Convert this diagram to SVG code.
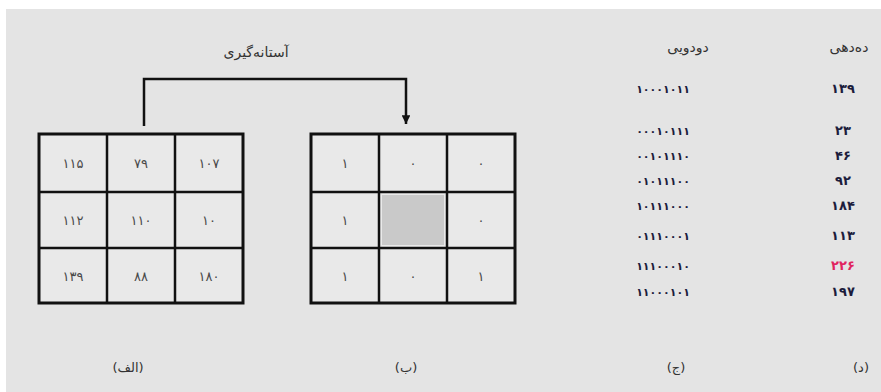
<svg xmlns="http://www.w3.org/2000/svg" width="881" height="392" viewBox="0 0 881 392">
<defs>
<style>
.t{font-family:"DejaVu Sans",sans-serif;text-anchor:middle;}
.cell{font-size:13px;fill:#4a4a4a;}
.hdr{font-size:14px;fill:#333;}
.bin{font-size:11px;font-weight:bold;fill:#1c1c3c;}
.dec{font-size:13px;font-weight:bold;fill:#1c1c3c;}
.lbl{font-size:13px;fill:#333;}
.grid{fill:none;stroke:#111;stroke-width:3;}
.gl{stroke:#111;stroke-width:2.5;}
.conn{fill:none;stroke:#111;stroke-width:2.5;}
</style>
<marker id="ah" viewBox="0 0 10 10" refX="10" refY="5" markerWidth="3.5" markerHeight="3.5" orient="auto" markerUnits="strokeWidth">
<path d="M0,0 L10,5 L0,10 Z" fill="#111"/>
</marker>
</defs>
<rect x="0" y="0" width="881" height="392" fill="#ffffff"/>
<rect x="6" y="9" width="875" height="383" fill="#e4e4e4"/>

<g id="title">
<text class="t hdr" x="256" y="57">آستانه‌گیری</text>
</g>

<g id="connectors">
<path class="conn" d="M144,126 L144,79 L406,79 L406,124" marker-end="url(#ah)"/>
</g>

<g id="grid-a">
<rect x="39" y="134" width="204" height="169" fill="#e9e9e9"/>
<rect class="grid" x="39" y="134" width="204" height="169"/>
<line class="gl" x1="107" y1="134" x2="107" y2="303"/>
<line class="gl" x1="175" y1="134" x2="175" y2="303"/>
<line class="gl" x1="39" y1="192" x2="243" y2="192"/>
<line class="gl" x1="39" y1="248" x2="243" y2="248"/>
<text class="t cell" x="73" y="168">۱۱۵</text>
<text class="t cell" x="141" y="168">۷۹</text>
<text class="t cell" x="209" y="168">۱۰۷</text>
<text class="t cell" x="73" y="225">۱۱۲</text>
<text class="t cell" x="141" y="225">۱۱۰</text>
<text class="t cell" x="209" y="225">۱۰</text>
<text class="t cell" x="73" y="281">۱۳۹</text>
<text class="t cell" x="141" y="281">۸۸</text>
<text class="t cell" x="209" y="281">۱۸۰</text>
</g>

<g id="grid-b">
<rect x="311" y="134" width="204" height="169" fill="#e9e9e9"/>
<rect x="382" y="195" width="62" height="50" fill="#c9c9c9"/>
<rect class="grid" x="311" y="134" width="204" height="169"/>
<line class="gl" x1="379" y1="134" x2="379" y2="303"/>
<line class="gl" x1="447" y1="134" x2="447" y2="303"/>
<line class="gl" x1="311" y1="192" x2="515" y2="192"/>
<line class="gl" x1="311" y1="248" x2="515" y2="248"/>
<text class="t cell" x="345" y="168">۱</text>
<text class="t cell" x="413" y="168">۰</text>
<text class="t cell" x="481" y="168">۰</text>
<text class="t cell" x="345" y="225">۱</text>
<text class="t cell" x="481" y="225">۰</text>
<text class="t cell" x="345" y="281">۱</text>
<text class="t cell" x="413" y="281">۰</text>
<text class="t cell" x="481" y="281">۱</text>
</g>

<g id="binary-column">
<text class="t hdr" x="688" y="52">دودویی</text>
<text class="t bin" x="663" y="93">۱۰۰۰۱۰۱۱</text>
<text class="t bin" x="663" y="135">۰۰۰۱۰۱۱۱</text>
<text class="t bin" x="663" y="160">۰۰۱۰۱۱۱۰</text>
<text class="t bin" x="663" y="185">۰۱۰۱۱۱۰۰</text>
<text class="t bin" x="663" y="210">۱۰۱۱۱۰۰۰</text>
<text class="t bin" x="663" y="240">۰۱۱۱۰۰۰۱</text>
<text class="t bin" x="663" y="270">۱۱۱۰۰۰۱۰</text>
<text class="t bin" x="663" y="296">۱۱۰۰۰۱۰۱</text>
</g>

<g id="decimal-column">
<text class="t hdr" x="849" y="52">ده‌دهی</text>
<text class="t dec" x="843" y="93">۱۳۹</text>
<text class="t dec" x="843" y="135">۲۳</text>
<text class="t dec" x="843" y="160">۴۶</text>
<text class="t dec" x="843" y="185">۹۲</text>
<text class="t dec" x="843" y="210">۱۸۴</text>
<text class="t dec" x="843" y="240">۱۱۳</text>
<text class="t dec" x="843" y="270" style="fill:#e0245e">۲۲۶</text>
<text class="t dec" x="843" y="296">۱۹۷</text>
</g>

<g id="captions">
<text class="t lbl" x="128" y="372">(الف)</text>
<text class="t lbl" x="406" y="372">(ب)</text>
<text class="t lbl" x="676" y="372">(ج)</text>
<text class="t lbl" x="861" y="372">(د)</text>
</g>
</svg>
